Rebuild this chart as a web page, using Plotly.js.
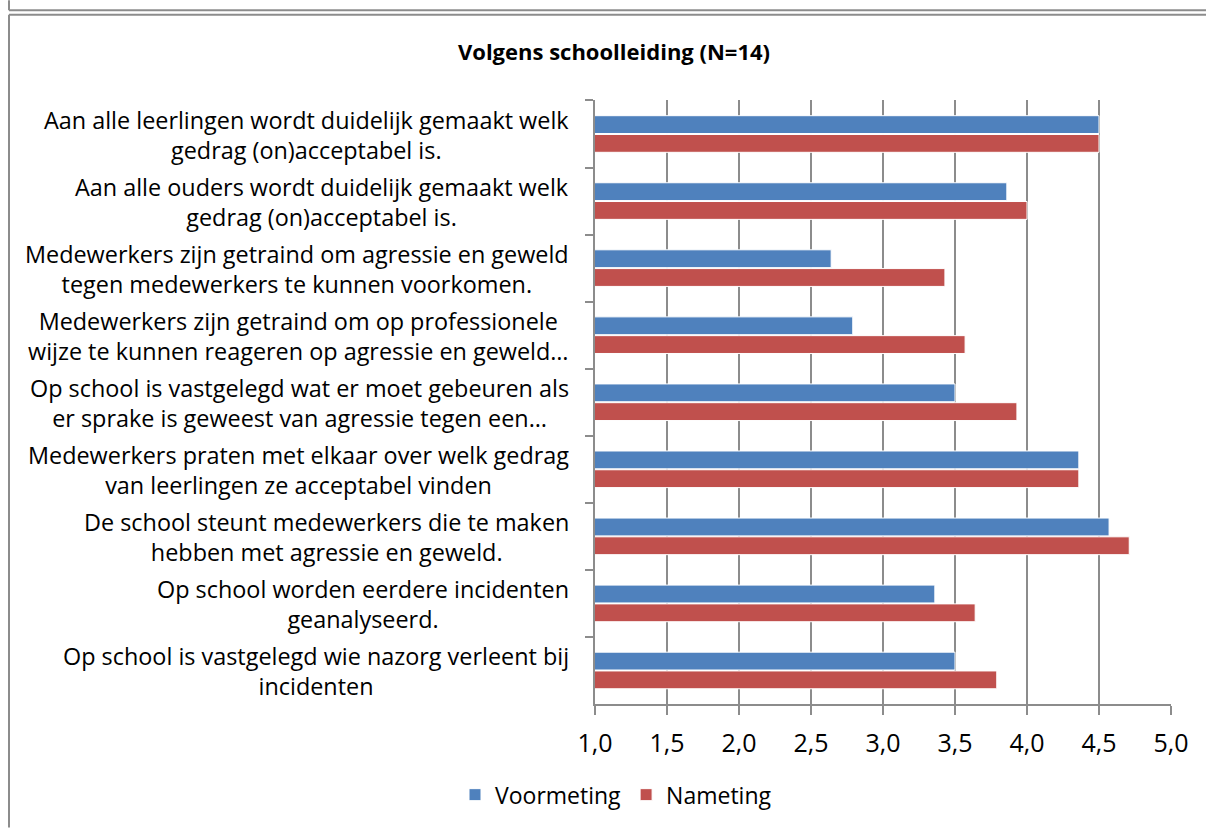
<!DOCTYPE html>
<html><head><meta charset="utf-8">
<script src="https://cdn.plot.ly/plotly-3.0.1.min.js"></script>
<style>html,body{margin:0;padding:0;background:#fff;}#chart{width:1206px;height:828px;}</style>
</head><body><div id="chart"></div>
<script>
const categories = [
  "Aan alle leerlingen wordt duidelijk gemaakt welk<br>gedrag (on)acceptabel is.",
  "Aan alle ouders wordt duidelijk gemaakt welk<br>gedrag (on)acceptabel is.",
  "Medewerkers zijn getraind om agressie en geweld<br>tegen medewerkers te kunnen voorkomen.",
  "Medewerkers zijn getraind om op professionele<br>wijze te kunnen reageren op agressie en geweld…",
  "Op school is vastgelegd wat er moet gebeuren als<br>er sprake is geweest van agressie tegen een…",
  "Medewerkers praten met elkaar over welk gedrag<br>van leerlingen ze acceptabel vinden",
  "De school steunt medewerkers die te maken<br>hebben met agressie en geweld.",
  "Op school worden eerdere incidenten<br>geanalyseerd.",
  "Op school is vastgelegd wie nazorg verleent bij<br>incidenten"
];
const voormeting = [4.50, 3.86, 2.64, 2.79, 3.50, 4.36, 4.57, 3.36, 3.50];
const nameting   = [4.50, 4.00, 3.43, 3.57, 3.93, 4.36, 4.71, 3.64, 3.79];
const seriesNames = ["Voormeting", "Nameting"];
const xTicks = [1.0, 1.5, 2.0, 2.5, 3.0, 3.5, 4.0, 4.5, 5.0];
const chartTitle = "Volgens schoolleiding (N=14)";

const FONT = "'Open Sans', 'Liberation Sans', sans-serif";
const W = 1206, H = 828, L = 595, R = 1171, T = 100, B = 706;
const px2x = p => (p - L) / (R - L);
const px2y = p => (B - p) / (B - T);

const traces = [
  {type:'bar', orientation:'h', name:seriesNames[0], y:categories, x:voormeting, base:0,
   marker:{color:'#4F81BD', line:{color:'#ffffff', width:1}}, hoverinfo:'x+name'},
  {type:'bar', orientation:'h', name:seriesNames[1], y:categories, x:nameting, base:0,
   marker:{color:'#C0504D', line:{color:'#ffffff', width:1}}, hoverinfo:'x+name'}
];

const annotations = categories.map(c => ({
  xref:'paper', yref:'y', x:px2x(571), y:c, xanchor:'right', yanchor:'middle', yshift:-1,
  align:'center', text:c, showarrow:false, font:{family:FONT, size:23.4, color:'#000'}
}));

const gc = '#8c8c8c';
const shapes = [
  {type:'line', xref:'paper', yref:'paper', x0:px2x(9), x1:px2x(9), y0:px2y(0), y1:px2y(10), line:{color:gc, width:2}},
  {type:'line', xref:'paper', yref:'paper', x0:px2x(9), x1:px2x(1210), y0:px2y(10), y1:px2y(10), line:{color:gc, width:2}},
  {type:'line', xref:'paper', yref:'paper', x0:px2x(9), x1:px2x(1210), y0:px2y(14.5), y1:px2y(14.5), line:{color:gc, width:2}},
  {type:'line', xref:'paper', yref:'paper', x0:px2x(9), x1:px2x(9), y0:px2y(14.5), y1:px2y(830), line:{color:gc, width:2}}
];

const layout = {
  width:W, height:H,
  margin:{l:L, r:W-R, t:T, b:H-B, pad:0},
  paper_bgcolor:'#fff', plot_bgcolor:'#fff',
  separators:',.',
  font:{family:FONT, color:'#000'},
  title:{text:'<b>'+chartTitle+'</b>', font:{family:FONT, size:22, color:'#000'},
         x:614/W, xanchor:'center', y:1-52/H, yanchor:'middle'},
  barmode:'group', bargap:0.44, bargroupgap:0.05,
  xaxis:{range:[1,5], tickvals:xTicks, tickformat:'.1f', showgrid:true, gridcolor:gc, gridwidth:2,
         zeroline:false, showline:true, linecolor:gc, linewidth:2, ticks:'outside', ticklen:9,
         ticklabelstandoff:7,
         tickcolor:gc, tickwidth:2, tickfont:{family:FONT, size:25, color:'#000'}, fixedrange:true},
  yaxis:{type:'category', autorange:'reversed', showticklabels:false, showgrid:false, zeroline:false,
         showline:true, linecolor:gc, linewidth:2, ticks:'outside', tickson:'boundaries', ticklen:8,
         tickcolor:gc, tickwidth:2, fixedrange:true},
  showlegend:true,
  legend:{orientation:'h', x:px2x(616), xanchor:'center', y:px2y(797), yanchor:'middle',
          font:{family:FONT, size:23, color:'#000'}, itemwidth:30, traceorder:'normal'},
  annotations, shapes
};

Plotly.newPlot('chart', traces, layout, {displayModeBar:false, staticPlot:true});
</script>
</body></html>
